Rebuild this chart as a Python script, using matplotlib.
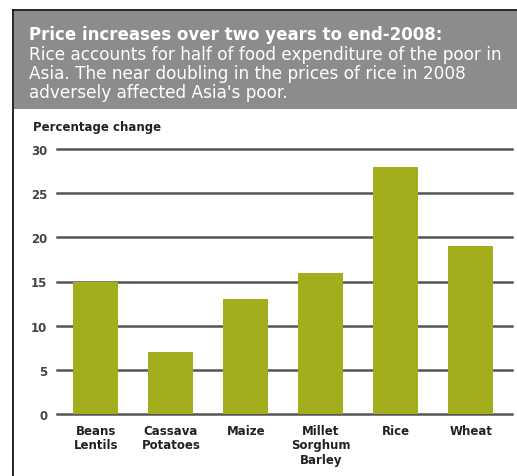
import matplotlib.pyplot as plt
from matplotlib.patches import Rectangle
from matplotlib.lines import Line2D

# Data
categories = ['Beans\nLentils', 'Cassava\nPotatoes', 'Maize',
              'Millet\nSorghum\nBarley', 'Rice', 'Wheat']
values = [15, 7, 13, 16, 28, 19]
yticks = [0, 5, 10, 15, 20, 25, 30]

title = 'Price increases over two years to end-2008:'
subtitle_lines = ["Rice accounts for half of food expenditure of the poor in",
                  "Asia. The near doubling in the prices of rice in 2008",
                  "adversely affected Asia's poor."]

W, H = 517, 477
plt.rcParams['font.family'] = ['DejaVu Sans']

fig = plt.figure(figsize=(W / 100, H / 100), dpi=100)
fig.patch.set_facecolor('white')

# grey header box and frame
fig.patches.append(Rectangle((14 / W, 1 - 110 / H), 1, (110 - 12) / H,
                             transform=fig.transFigure, facecolor='#8c8c8e',
                             edgecolor='none', zorder=0))
fig.lines.append(Line2D([12.5 / W, 12.5 / W], [0, 1 - 10.5 / H],
                        transform=fig.transFigure, color='black', lw=1.2))
fig.lines.append(Line2D([12.5 / W, 1], [1 - 10.5 / H, 1 - 10.5 / H],
                        transform=fig.transFigure, color='black', lw=1.2))

fig.text(29 / W, 1 - 40 / H, title, color='white', fontsize=12,
         fontweight='bold', va='baseline', ha='left')
for i, line in enumerate(subtitle_lines):
    fig.text(29 / W, 1 - (60 + 19 * i) / H, line, color='white', fontsize=12.2,
             va='baseline', ha='left')

ax = fig.add_axes([57 / W, 1 - 415 / H, (512 - 57) / W, (415 - 150) / H])
x = range(len(categories))
ax.bar(x, values, width=0.6, color='#a4ad1c', zorder=2)
ax.set_xlim(-0.52, 5.55)
ax.set_ylim(0, 30)
ax.set_yticks(yticks)
ax.set_yticklabels([str(t) for t in yticks], fontsize=8.5, fontweight='bold',
                   color='#444444')
ax.set_xticks(list(x))
ax.set_xticklabels(categories, fontsize=8.5, fontweight='bold', color='#222222',
                   linespacing=1.15)
ax.tick_params(axis='both', length=0)
ax.tick_params(axis='y', pad=7)
ax.tick_params(axis='x', pad=7)
for t in yticks:
    ax.axhline(t, color='#555555', lw=1.8, zorder=1, clip_on=False)
for s in ax.spines.values():
    s.set_visible(False)

fig.text(33 / W, 1 - 127 / H, 'Percentage change', fontsize=8.5,
         fontweight='bold', color='#222222', va='center', ha='left')

fig.savefig('out.png', dpi=100)
